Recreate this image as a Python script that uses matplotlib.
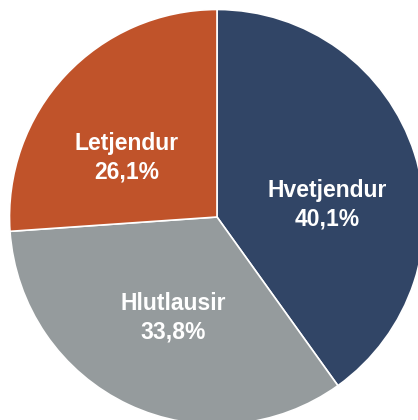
import matplotlib
matplotlib.use("Agg")
import matplotlib.pyplot as plt

categories = ["Hvetjendur", "Hlutlausir", "Letjendur"]
values = [40.1, 33.8, 26.1]
labels = ["Hvetjendur\n40,1%", "Hlutlausir\n33,8%", "Letjendur\n26,1%"]
colors = ["#314566", "#959B9D", "#C0532A"]

W, H = 418, 420
fig = plt.figure(figsize=(W / 100, H / 100), dpi=100)
ax = fig.add_axes([0, 0, 1, 1])
ax.set_xlim(0, W)
ax.set_ylim(0, H)
ax.set_aspect("equal")
ax.axis("off")

cx, cy, r = 217, 203, 207.5
ax.pie(values, colors=colors, startangle=90, counterclock=False,
       center=(cx, cy), radius=r,
       wedgeprops=dict(edgecolor="white", linewidth=1.2))

# label positions (pixel coords, origin bottom-left)
label_pos = [(327.5, 215), (173, 102), (127, 262)]
for (x, y), t in zip(label_pos, labels):
    ax.text(x, y, t, ha="center", va="center", color="white",
            fontsize=16.5, fontweight="bold", family="Liberation Sans",
            linespacing=1.33)

ax.set_xlim(0, W)
ax.set_ylim(0, H)
fig.savefig("out.png", dpi=100)
